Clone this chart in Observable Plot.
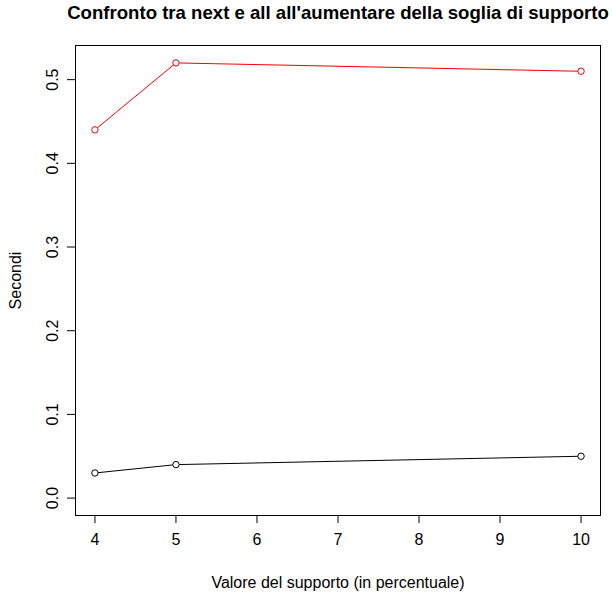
<!DOCTYPE html>
<html>
<head>
<meta charset="utf-8">
<script src="https://cdn.jsdelivr.net/npm/d3@7"></script>
<script src="https://cdn.jsdelivr.net/npm/@observablehq/plot@0.6"></script>
<style>
  html, body { margin: 0; padding: 0; background: white; }
</style>
</head>
<body>
<div id="chart"></div>
<script>
const titleText = "Confronto tra next e all all'aumentare della soglia di supporto";
const xLabel = "Valore del supporto (in percentuale)";
const yLabel = "Secondi";
const supporto = [4, 5, 10];
const nextSec = [0.03, 0.04, 0.05];
const allSec = [0.44, 0.52, 0.51];
const xTicks = [4, 5, 6, 7, 8, 9, 10];
const yTicks = [0, 0.1, 0.2, 0.3, 0.4, 0.5];

const rows = supporto.map((s, i) => ({s, next: nextSec[i], all: allSec[i]}));

const chart = Plot.plot({
  width: 612,
  height: 594,
  marginLeft: 75,
  marginRight: 12,
  marginTop: 45,
  marginBottom: 79,
  style: {fontFamily: "'Liberation Sans', Arial, sans-serif", fontSize: "16px", background: "white", color: "black"},
  x: {domain: [3.76, 10.24]},
  y: {domain: [-0.0208, 0.5408]},
  marks: [
    Plot.frame({stroke: "black", strokeWidth: 1}),
    Plot.axisX({ticks: xTicks, tickSize: 8, tickPadding: 10, tickFormat: d3.format("d"), fontSize: 16, label: xLabel, labelAnchor: "center", labelOffset: 72, labelArrow: "none"}),
    Plot.axisY({ticks: yTicks, tickSize: 8, tickPadding: 10, tickRotate: -90, tickFormat: d3.format(".1f"), fontSize: 16, label: yLabel, labelAnchor: "center", labelOffset: 66, labelArrow: "none"}),
    Plot.line(rows, {x: "s", y: "all", stroke: "red", strokeWidth: 1}),
    Plot.dot(rows, {x: "s", y: "all", stroke: "red", fill: "white", r: 3.2, strokeWidth: 1}),
    Plot.line(rows, {x: "s", y: "next", stroke: "black", strokeWidth: 1}),
    Plot.dot(rows, {x: "s", y: "next", stroke: "black", fill: "white", r: 3.2, strokeWidth: 1}),
    Plot.text([titleText], {frameAnchor: "top", dy: -27, lineAnchor: "bottom", fontWeight: "bold", fontSize: 18.6, text: d => d})
  ]
});
document.getElementById("chart").appendChild(chart);
</script>
</body>
</html>
